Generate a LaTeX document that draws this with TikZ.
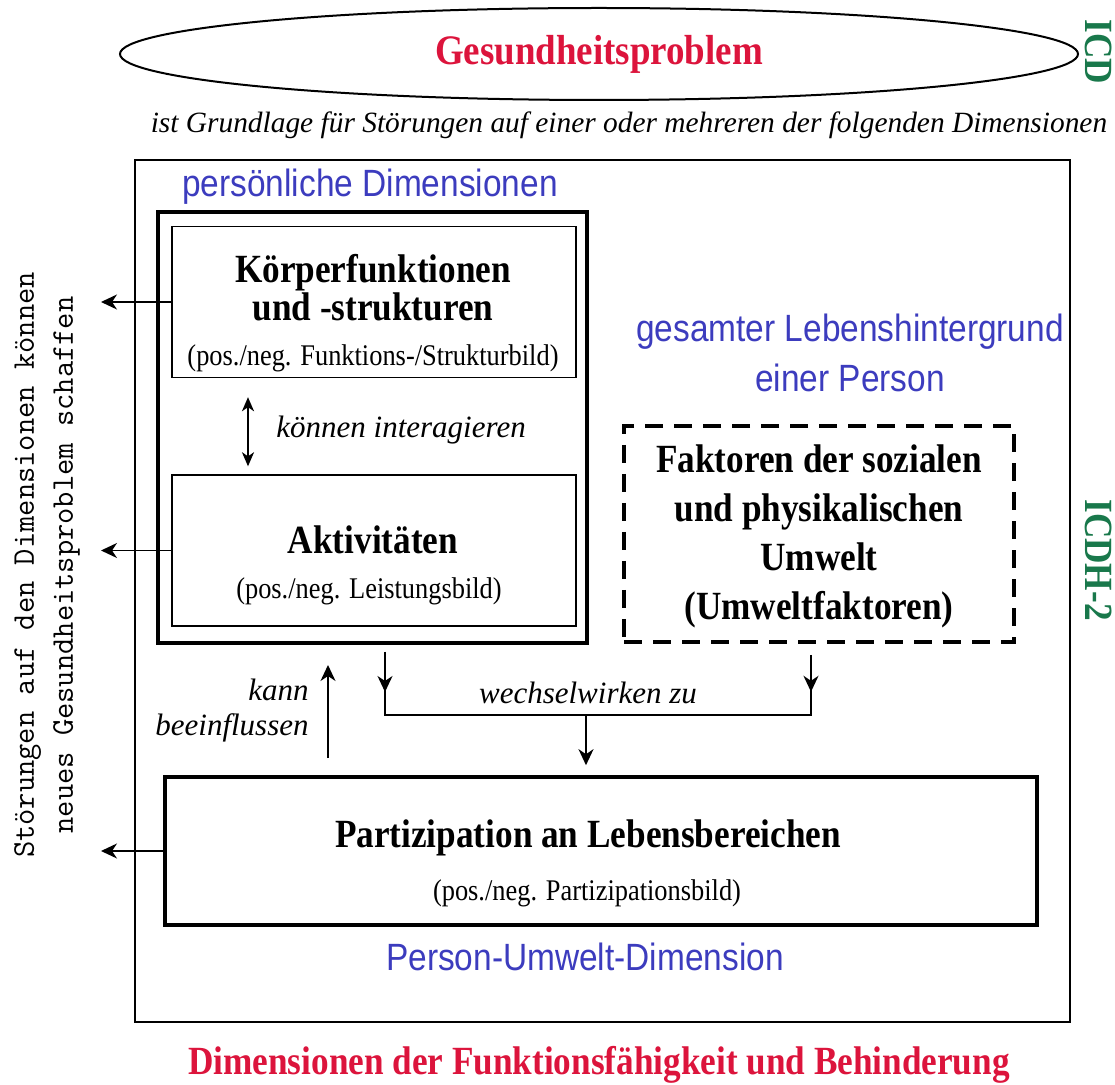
\documentclass[tikz,border=0pt]{standalone}
\usepackage{fontspec}
\setmainfont{Liberation Serif}[FakeStretch=0.88]
\newfontfamily\notefont{Liberation Serif}
\newfontfamily\dimfont{Liberation Sans}[FakeStretch=0.88]
\usetikzlibrary{arrows.meta,shapes.geometric}

\definecolor{probred}{RGB}{220,20,60}
\definecolor{icdgreen}{RGB}{25,120,75}
\definecolor{dimblue}{RGB}{60,60,190}

\tikzset{
	headline/.style={font=\fontsize{20}{17}\selectfont\bfseries, align=center, inner sep=0pt},
	subline/.style={font=\fontsize{15}{18}\selectfont, inner sep=0pt},
	note/.style={font=\notefont\itshape\fontsize{15.5}{17.5}\selectfont, inner sep=0pt},
	dimlabel/.style={font=\dimfont\fontsize{19}{25}\selectfont, text=dimblue, align=center, inner sep=0pt},
	icdlabel/.style={font=\fontsize{20}{20}\selectfont\bfseries, text=icdgreen, rotate=-90, inner sep=0pt},
	innerbox/.style={draw, line width=0.7pt, minimum width=202pt, minimum height=75.5pt, inner sep=0pt},
	arr/.style={-{Stealth[length=8pt,width=7.5pt,inset=2.5pt]}, line width=0.9pt}
}

\begin{document}
\begin{tikzpicture}[x=0.5pt, y=-0.5pt]
	\useasboundingbox (0,0) rectangle (1115,1085);

	\node[draw, ellipse, line width=1pt, minimum width=479pt, minimum height=46pt,
		font=\fontsize{21}{21}\selectfont\bfseries, text=probred] (problem) at (599,54) {Gesundheitsproblem};
	\node[icdlabel] (icd) at (1099,52) {ICD};
	\node[note, font=\notefont\itshape\fontsize{14.7}{16}\selectfont] (grundlage) at (629,125)
		{ist Grundlage für Störungen auf einer oder mehreren der folgenden Dimensionen};

	% Rahmen
	\node[draw, line width=1.4pt, minimum width=467.5pt, minimum height=431pt] (outer) at (602.5,591) {};
	\node[draw, line width=2pt, minimum width=214.5pt, minimum height=215.5pt] (pers) at (372.5,427.5) {};
	\node[innerbox] (koerper) at (374,302) {};
	\node[innerbox] (aktiv) at (374,550.5) {};
	\node[draw, dashed, dash pattern=on 9pt off 5.5pt, line width=1.8pt, minimum width=195pt, minimum height=108pt] (umwelt) at (819,534) {};
	\node[draw, line width=1.8pt, minimum width=436pt, minimum height=74pt] (partiz) at (601,851) {};

	% Texte
	\node[dimlabel] (perslabel) at (370,187) {persönliche Dimensionen};
	\node[headline] (koerpertxt) at (373,288) {Körperfunktionen\\und -strukturen};
	\node[subline] (koerpersub) at (373,358) {(pos./neg. Funktions-/Strukturbild)};
	\node[headline] (aktivtxt) at (373,540) {Aktivitäten};
	\node[subline] (aktivsub) at (369,591) {(pos./neg. Leistungsbild)};
	\node[note, anchor=west] (interagieren) at (276,430) {können interagieren};

	\node[dimlabel] (lebenslabel) at (850,353) {gesamter Lebenshintergrund\\einer Person};
	\node[headline, font=\fontsize{20}{24.5}\selectfont\bfseries] (umwelttxt) at (819,536)
		{Faktoren der sozialen\\und physikalischen\\Umwelt\\(Umweltfaktoren)};

	\node[headline] (partiztxt) at (588,838) {Partizipation an Lebensbereichen};
	\node[subline] (partizsub) at (587,893) {(pos./neg. Partizipationsbild)};
	\node[dimlabel] (pudim) at (585,957) {Person-Umwelt-Dimension};

	\node[note, align=right, anchor=east] (kann) at (309,711) {kann\\beeinflussen};
	\node[note] (wechsel) at (588,693) {wechselwirken zu};

	\node[font=\ttfamily\fontsize{15.8}{19.5}\selectfont, rotate=90, align=center, inner sep=0pt] (stoer) at (47,565)
		{Störungen auf den Dimensionen können\\neues Gesundheitsproblem schaffen};
	\node[icdlabel] (icdh) at (1099,560) {ICDH-2};
	\node[headline, text=probred] (titel) at (599,1065) {Dimensionen der Funktionsfähigkeit und Behinderung};

	% Pfeile
	\coordinate (koerperout) at (101,302);
	\coordinate (aktivout) at (101,550.5);
	\coordinate (partizout) at (101,851);
	\draw[arr] (koerper.west) -- (koerperout);
	\draw[arr] (aktiv.west) -- (aktivout);
	\draw[arr] (partiz.west) -- (partizout);

	\draw[arr, {Stealth[length=7pt,width=6pt,inset=2pt]}-{Stealth[length=7pt,width=6pt,inset=2pt]}, shorten <=9.5pt, shorten >=4pt]
		([xshift=-63pt]koerper.south) -- ([xshift=-63pt]aktiv.north);

	\draw[arr, shorten <=8.5pt, shorten >=10pt] ([xshift=-136.5pt]partiz.north) -- ([xshift=-22.25pt]pers.south);

	\coordinate (persout) at ([xshift=6.25pt,yshift=-3.5pt]pers.south);
	\coordinate (umweltout) at ([xshift=-4pt,yshift=-5.5pt]umwelt.south);
	\coordinate (wwleft) at (385,715);
	\coordinate (wwright) at (811,715);
	\coordinate (wwjoin) at (586,715);
	\draw[line width=0.8pt] (persout) -- (wwleft) -- (wwright) -- (umweltout);
	\draw[arr] (persout) -- ++(0,40);
	\draw[arr] (umweltout) -- ++(0,37);
	\draw[arr, shorten >=5pt] (wwjoin) -- (partiz.north -| wwjoin);
\end{tikzpicture}
\end{document}
